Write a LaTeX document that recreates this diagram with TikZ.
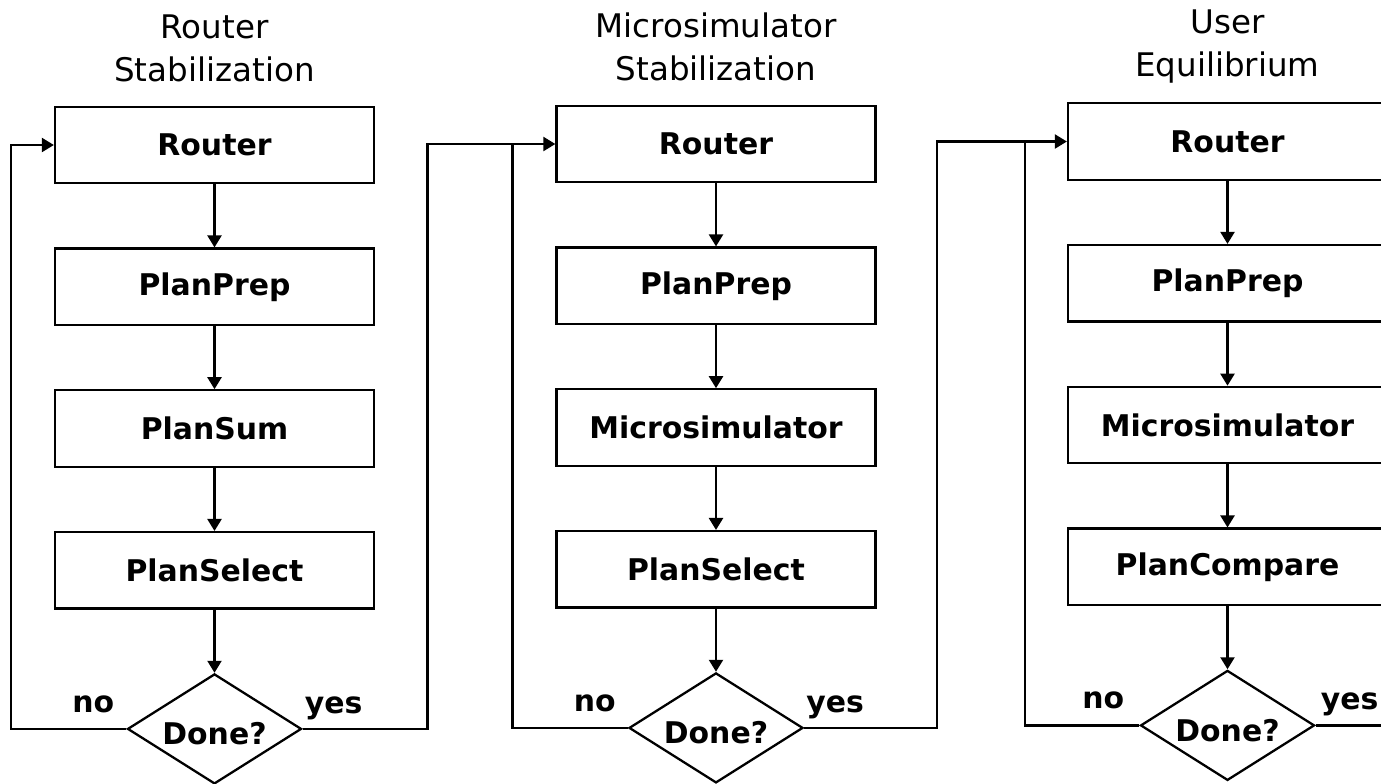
\documentclass[tikz,border=0pt]{standalone}
\usepackage{fontspec}
\setmainfont{DejaVu Sans}
\usetikzlibrary{shapes.geometric, arrows.meta, positioning}

\begin{document}
\begin{tikzpicture}[node distance=1.26cm, line width=1.3pt,
    >={Triangle[length=0.24cm, width=0.28cm]},
    stagebox/.style={draw, rectangle, minimum width=6.38cm, minimum height=1.53cm,
        font=\fontsize{17}{20}\selectfont\bfseries},
    decision/.style={draw, diamond, aspect=1.58, minimum width=3.48cm, minimum height=2.2cm,
        inner sep=0pt, font=\fontsize{17}{20}\selectfont\bfseries},
    phase/.style={align=center, inner sep=0pt, font=\fontsize{18.5}{24.5}\selectfont},
    answer/.style={inner sep=0pt, font=\fontsize{17}{20}\selectfont\bfseries}]

    \useasboundingbox (0,0) rectangle (27.62,-15.66);

    \node[stagebox] (rt1) at (4.29,-2.9) {Router};
    \node[stagebox] (pp1) [below=of rt1] {PlanPrep};
    \node[stagebox] (sum1) [below=of pp1] {PlanSum};
    \node[stagebox] (sel1) [below=of sum1] {PlanSelect};
    \node[decision] (dn1) [below=of sel1] {\raisebox{-0.1cm}[\height][\depth]{Done?}};
    \node[phase] (ph1) [above=0.45cm of rt1] {Router\\Stabilization};

    \node[stagebox] (rt2) at (14.32,-2.88) {Router};
    \node[stagebox] (pp2) [below=of rt2] {PlanPrep};
    \node[stagebox] (ms2) [below=of pp2] {Microsimulator};
    \node[stagebox] (sel2) [below=of ms2] {PlanSelect};
    \node[decision] (dn2) [below=of sel2] {\raisebox{-0.1cm}[\height][\depth]{Done?}};
    \node[phase] (ph2) [above=0.45cm of rt2] {Microsimulator\\Stabilization};

    \node[stagebox] (rt3) at (24.55,-2.83) {Router};
    \node[stagebox] (pp3) [below=of rt3] {PlanPrep};
    \node[stagebox] (ms3) [below=of pp3] {Microsimulator};
    \node[stagebox] (cmp3) [below=of ms3] {PlanCompare};
    \node[decision] (dn3) [below=of cmp3] {\raisebox{-0.1cm}[\height][\depth]{Done?}};
    \node[phase] (ph3) [above=0.36cm of rt3] {User\\Equilibrium};

    \path[->]
    (rt1) edge (pp1)
    (pp1) edge (sum1)
    (sum1) edge (sel1)
    (sel1) edge (dn1)
    (rt2) edge (pp2)
    (pp2) edge (ms2)
    (ms2) edge (sel2)
    (sel2) edge (dn2)
    (rt3) edge (pp3)
    (pp3) edge (ms3)
    (ms3) edge (cmp3)
    (cmp3) edge (dn3);

    \coordinate[left=0.86cm of rt1.west] (no1);
    \coordinate[left=2.56cm of rt2.west] (yes1);
    \coordinate[left=0.86cm of rt2.west] (no2);
    \coordinate[left=2.6cm of rt3.west] (yes2);
    \coordinate[left=0.84cm of rt3.west] (no3);
    \coordinate (out3) at (28,-14.5);

    \draw[->] (dn1.west) -| (no1) -- (rt1.west);
    \draw[->] (dn1.east) -| (yes1) -- (rt2.west);
    \draw (dn2.west) -| (no2);
    \draw[->] (dn2.east) -| (yes2) -- (rt3.west);
    \draw (dn3.west) -| (no3);
    \draw (dn3.east) -- (dn3.east -| out3);

    \node[answer, above left=0.3cm and 0.22cm of dn1.west] (nolbl1) {no};
    \node[answer, above right=0.16cm and 0.02cm of dn1.east] (yeslbl1) {yes};
    \node[answer, above left=0.3cm and 0.22cm of dn2.west] (nolbl2) {no};
    \node[answer, above right=0.16cm and 0.02cm of dn2.east] (yeslbl2) {yes};
    \node[answer, above left=0.3cm and 0.28cm of dn3.west] (nolbl3) {no};
    \node[answer, above right=0.16cm and 0.08cm of dn3.east] (yeslbl3) {yes};
\end{tikzpicture}
\end{document}
